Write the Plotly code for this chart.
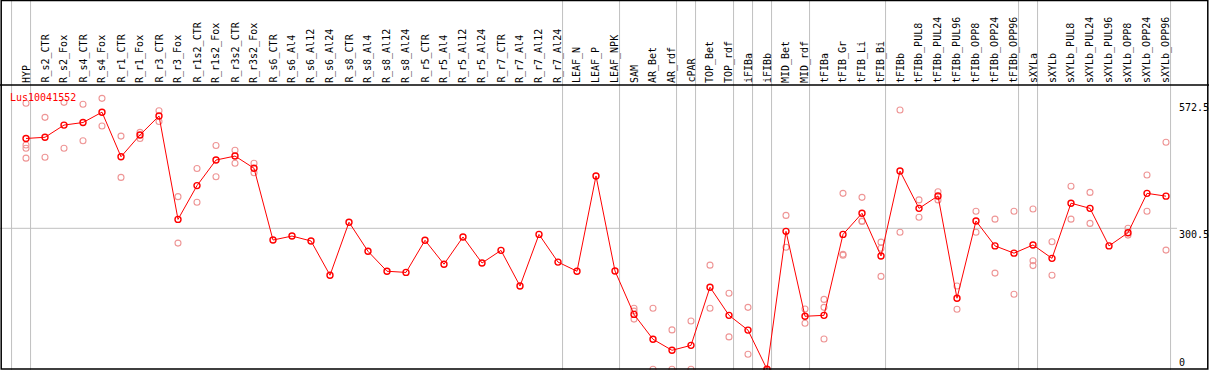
import plotly.graph_objects as go

categories = ["HYP", "R_s2_CTR", "R_s2_Fox", "R_s4_CTR", "R_s4_Fox", "R_r1_CTR", "R_r1_Fox",
              "R_r3_CTR", "R_r3_Fox", "R_r1s2_CTR", "R_r1s2_Fox", "R_r3s2_CTR", "R_r3s2_Fox",
              "R_s6_CTR", "R_s6_Al4", "R_s6_Al12", "R_s6_Al24", "R_s8_CTR", "R_s8_Al4", "R_s8_Al12",
              "R_s8_Al24", "R_r5_CTR", "R_r5_Al4", "R_r5_Al12", "R_r5_Al24", "R_r7_CTR", "R_r7_Al4",
              "R_r7_Al12", "R_r7_Al24", "LEAF_N", "LEAF_P", "LEAF_NPK", "SAM", "AR_Bet", "AR_rdf",
              "cPAR", "TOP_Bet", "TOP_rdf", "iFIBa", "iFIBb", "MID_Bet", "MID_rdf", "tFIBa",
              "tFIB_Gr", "tFIB_Li", "tFIB_Bi", "tFIBb", "tFIBb_PUL8", "tFIBb_PUL24", "tFIBb_PUL96",
              "tFIBb_OPP8", "tFIBb_OPP24", "tFIBb_OPP96", "sXYLa", "sXYLb", "sXYLb_PUL8",
              "sXYLb_PUL24", "sXYLb_PUL96", "sXYLb_OPP8", "sXYLb_OPP24", "sXYLb_OPP96"]

means = [492, 494.5, 520.5, 526, 548, 453, 499.5, 540, 319.5, 391.5, 446, 454.5, 428.5,
         275.5, 284, 273.5, 200.5, 313.5, 251.5, 209, 206.5, 275, 224, 282, 226.5, 253.5,
         177.5, 287.5, 228.5, 209, 412, 209.5, 117, 64, 40.5, 51, 175, 115, 83.5, 0, 294,
         113, 115, 287.5, 332.5, 241.5, 422.5, 343, 369.5, 151.5, 316, 263, 247.5, 265,
         236.5, 354, 343, 263, 291, 375, 369]

replicates = [[567, 478, 471, 450], [537, 452], [569, 471], [565, 487], [577.5, 518.5],
              [497, 409], [505, 492], [551, 528], [368, 269], [428, 356], [477, 410.5],
              [467, 439], [439, 419],
              [], [], [], [], [], [], [], [], [], [], [], [], [], [], [], [], [], [], [],
              [130, 124, 107], [130, 0], [84, 0], [103, 0], [222, 130], [162, 69], [132, 32],
              [0, 0], [328, 260], [128.5, 98], [149, 132, 64.5], [375, 245, 243],
              [366.5, 316, 315], [271, 258, 198], [552.5, 292], [361, 324], [378.5, 361],
              [177.5, 128], [337, 292], [320, 205], [337, 160], [341.5, 231.5, 221],
              [272, 200.5], [390, 320], [377, 311], [], [300.5, 286], [414, 337], [484, 254]]

group_ends = [-1, 0, 28, 31, 34, 35, 37, 38, 39, 41, 45, 52, 53, 60]
y_tick_values = [572.5, 300.5, 0]
y_tick_labels = ["572.5", "300.5", "0"]
title_text = "Lus10041552"

W, H = 1209, 370
FONT = "DejaVu Sans Mono"
idx = list(range(len(categories)))

rep_x, rep_y = [], []
for i, reps in enumerate(replicates):
    for v in reps:
        rep_x.append(i)
        rep_y.append(v)

fig = go.Figure()
fig.add_trace(go.Scatter(
    x=rep_x, y=rep_y, mode="markers",
    marker=dict(symbol="circle-open", size=6, color="rgb(238,150,150)", line=dict(width=1.1)),
    hoverinfo="skip", showlegend=False, cliponaxis=False))
fig.add_trace(go.Scatter(
    x=idx, y=means, mode="lines+markers",
    line=dict(color="#ff0000", width=1),
    marker=dict(symbol="circle-open", size=6, color="#ff0000", line=dict(width=1.4)),
    text=categories, showlegend=False, cliponaxis=False))

shapes = []
for g in group_ends:
    shapes.append(dict(type="line", xref="x", yref="paper", x0=g + 0.24, x1=g + 0.24,
                       y0=0, y1=1, line=dict(color="#c0c0c0", width=1), layer="below"))
# horizontal grid at middle tick
shapes.append(dict(type="line", xref="paper", yref="y", x0=0, x1=1177 / W,
                   y0=y_tick_values[1], y1=y_tick_values[1],
                   line=dict(color="#c0c0c0", width=1), layer="below"))
# separator under labels and outer frame
shapes.append(dict(type="line", xref="paper", yref="paper", x0=0, x1=1,
                   y0=(H - 85) / H, y1=(H - 85) / H, line=dict(color="black", width=1.5)))
shapes.append(dict(type="rect", xref="paper", yref="paper", x0=1.2 / W, x1=1207.8 / W,
                   y0=1 - 369 / H, y1=1 - 0.5 / H, line=dict(color="black", width=1.5)))

annotations = []
for i, c in enumerate(categories):
    annotations.append(dict(x=i, xref="x", y=(H - 84) / H, yref="paper", text=c,
                            textangle=-90, showarrow=False, xanchor="center", yanchor="bottom",
                            font=dict(family=FONT, size=10, color="black"), borderpad=0))
for v, t in zip(y_tick_values, y_tick_labels):
    annotations.append(dict(x=1178 / W, xref="paper", y=v, yref="y", text=t, showarrow=False,
                            xanchor="left", yanchor="top" if v > 0 else "bottom",
                            yshift=0 if v > 0 else 0.5, borderpad=0,
                            font=dict(family=FONT, size=10, color="black")))
annotations.append(dict(x=9 / W, xref="paper", y=(H - 97) / H, yref="paper", text=title_text,
                        showarrow=False, xanchor="left", yanchor="middle", borderpad=0,
                        font=dict(family=FONT, size=10, color="#ff0000")))

fig.update_layout(
    width=W, height=H, autosize=False,
    margin=dict(l=0, r=0, t=0, b=0, pad=0),
    paper_bgcolor="white", plot_bgcolor="white",
    xaxis=dict(range=[-26 / 19, (W - 26) / 19], visible=False, fixedrange=True),
    yaxis=dict(range=[-1.5, 787.1], visible=False, fixedrange=True),
    shapes=shapes, annotations=annotations,
)

fig.write_html("out.html", config={"displayModeBar": False},
               post_script="document.body.style.margin='0';document.body.style.padding='0';"
                           "document.body.style.overflow='hidden';")
